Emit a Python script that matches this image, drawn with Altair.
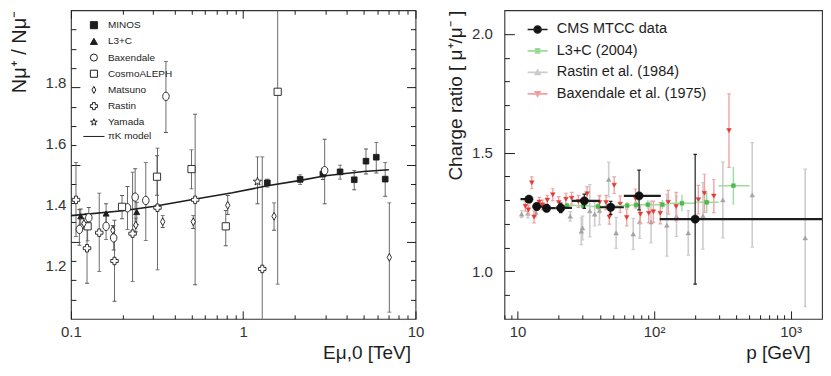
import altair as alt
import pandas as pd

FONT = "Liberation Sans"
INK = "#1e1e1e"
LBL = "#333333"

# ---------------- left panel: N(mu+)/N(mu-) vs E_mu,0 [TeV] ----------------
minos_E = [1.38, 2.14, 2.90, 3.65, 4.41, 5.16, 5.92, 6.67]
minos_R = [1.471, 1.482, 1.500, 1.507, 1.481, 1.542, 1.555, 1.483]
minos_lo = [1.457, 1.465, 1.482, 1.483, 1.448, 1.500, 1.503, 1.427]
minos_hi = [1.483, 1.497, 1.519, 1.529, 1.511, 1.582, 1.603, 1.538]

l3c_E = [0.114, 0.160, 0.241]
l3c_R = [1.361, 1.370, 1.375]
l3c_lo = [1.335, 1.334, 1.334]
l3c_hi = [1.385, 1.402, 1.407]

bax_E = [0.112, 0.127, 0.160, 0.177, 0.213, 0.236, 0.272, 0.356, 2.97]
bax_R = [1.318, 1.356, 1.328, 1.290, 1.389, 1.424, 1.413, 1.755, 1.511]
bax_lo = [1.266, 1.320, 1.285, 1.250, 1.318, 1.330, 1.281, 1.636, 1.402]
bax_hi = [1.383, 1.390, 1.370, 1.330, 1.459, 1.517, 1.538, 1.870, 1.614]

cal_E = [0.125, 0.198, 0.316, 0.501, 0.792, 1.585]
cal_R = [1.328, 1.392, 1.491, 1.516, 1.328, 1.770]
cal_lo = [1.280, 1.353, 1.430, 1.451, 1.264, 1.138]
cal_hi = [1.370, 1.429, 1.560, 1.579, 1.380, 2.100]

mat_E = [0.119, 0.175, 0.238, 0.341, 0.513, 0.813, 1.51, 7.05]
mat_R = [1.337, 1.315, 1.332, 1.343, 1.343, 1.397, 1.361, 1.226]
mat_lo = [1.320, 1.300, 1.310, 1.324, 1.321, 1.367, 1.315, 1.046]
mat_hi = [1.355, 1.330, 1.355, 1.363, 1.363, 1.429, 1.405, 1.405]

ras_E = [0.107, 0.124, 0.146, 0.179, 0.228, 0.318, 0.526, 1.29]
ras_R = [1.415, 1.256, 1.307, 1.214, 1.304, 1.389, 1.415, 1.188]
ras_lo = [1.294, 1.141, 1.180, 1.082, 1.147, 1.185, 1.136, 0.900]
ras_hi = [1.538, 1.370, 1.437, 1.348, 1.506, 1.585, 1.696, 1.556]

yam_E = [1.21]
yam_R = [1.475]
yam_lo = [1.402]
yam_hi = [1.556]

pik_E = [0.1, 0.2, 0.3, 0.5, 0.865, 1.38, 2.11, 3.0, 5.0, 7.0]
pik_R = [1.363, 1.379, 1.393, 1.415, 1.438, 1.461, 1.478, 1.494, 1.508, 1.514]

left_names = ["MINOS", "L3+C", "Baxendale", "CosmoALEPH", "Matsuno", "Rastin", "Yamada", "\u03c0K model"]

# axis tick values (left)
left_x_labels = [0.1, 1, 10]
left_x_minor = [0.2, 0.3, 0.4, 0.5, 0.6, 0.7, 0.8, 0.9, 2, 3, 4, 5, 6, 7, 8, 9]
left_y_labels = [1.2, 1.4, 1.6, 1.8]
left_y_major = [1.277, 1.531, 1.784]
left_y_minor = [1.087, 1.151, 1.214, 1.341, 1.404, 1.467, 1.594, 1.658, 1.721, 1.848, 1.911, 1.975]

# ---------------- right panel: charge ratio vs p [GeV] ----------------
cms_p = [12.1, 13.8, 16.3, 20.7, 30.8, 48.1, 77.6, 200]
cms_R = [1.304, 1.273, 1.266, 1.267, 1.297, 1.270, 1.318, 1.220]
cms_lo = [1.292, 1.258, 1.251, 1.247, 1.265, 1.240, 1.259, 0.946]
cms_hi = [1.316, 1.288, 1.281, 1.287, 1.325, 1.295, 1.426, 1.493]
cms_plo = [10.5, 12.9, 15.2, 19.0, 25.0, 40.0, 60.0, 110]
cms_phi = [12.9, 15.2, 19.0, 25.0, 40.0, 60.0, 112, 2000]

l3_p = [23.0, 30.3, 38.8, 48.0, 63.5, 73.8, 90, 115, 160, 243, 381]
l3_R = [1.277, 1.276, 1.273, 1.275, 1.277, 1.280, 1.281, 1.281, 1.287, 1.291, 1.361]
l3_err = [0.012, 0.012, 0.013, 0.014, 0.015, 0.016, 0.018, 0.02, 0.035, 0.045, 0.08]
l3_plo = [21, 27, 34, 43, 55, 68, 80, 100, 130, 200, 297]
l3_phi = [27, 34, 43, 55, 68, 80, 100, 130, 200, 297, 501]

rst_p = [10.7, 11.9, 13.6, 24.3, 29.3, 29.9, 33.8, 36.7, 39.8, 46.5, 52.7, 70.3, 78.5, 95, 124, 146, 178, 228, 319, 524, 1280]
rst_R = [1.241, 1.245, 1.248, 1.232, 1.169, 1.183, 1.255, 1.241, 1.256, 1.387, 1.162, 1.157, 1.209, 1.208, 1.194, 1.232, 1.162, 1.234, 1.301, 1.322, 1.141]
rst_err = [0.015, 0.02, 0.02, 0.02, 0.056, 0.05, 0.11, 0.05, 0.06, 0.073, 0.065, 0.066, 0.07, 0.088, 0.13, 0.085, 0.094, 0.14, 0.16, 0.22, 0.29]

bx_p = [11.4, 12.0, 12.7, 13.2, 14.4, 15.2, 16.5, 18.1, 20.0, 22.6, 24.9, 27.9, 32.3, 39.8, 44.5, 47, 51, 56.4, 63, 73.1, 79.4, 91.4, 98.8, 111, 127, 145, 211, 234, 274, 354]
bx_R = [1.274, 1.259, 1.373, 1.229, 1.292, 1.280, 1.300, 1.323, 1.290, 1.304, 1.308, 1.294, 1.327, 1.290, 1.290, 1.229, 1.363, 1.283, 1.227, 1.307, 1.241, 1.245, 1.251, 1.245, 1.291, 1.273, 1.302, 1.329, 1.317, 1.593]
bx_err = [0.02, 0.02, 0.025, 0.025, 0.02, 0.02, 0.02, 0.025, 0.025, 0.025, 0.025, 0.025, 0.03, 0.03, 0.03, 0.03, 0.035, 0.035, 0.035, 0.04, 0.04, 0.04, 0.045, 0.045, 0.05, 0.06, 0.06, 0.08, 0.07, 0.155]

right_names = ["CMS MTCC data", "L3+C (2004)", "Rastin et al. (1984)", "Baxendale et al. (1975)"]

right_x_labels = [10, 100, 1000]
right_x_minor = [8, 9, 20, 30, 40, 50, 60, 70, 80, 90, 200, 300, 400, 500, 600, 700, 800, 900]
right_y_labels = [1.0, 1.5, 2.0]
right_y_minor = [0.9, 1.1, 1.2, 1.3, 1.4, 1.6, 1.7, 1.8, 1.9]

# ---------------- helpers ----------------
def tick_axis(orient, values, size):
    return alt.Axis(orient=orient, values=values, labels=False, ticks=True, tickSize=size,
                    offset=-size, domain=False, grid=False, title=None,
                    tickColor=INK, tickWidth=1)


def label_axis(orient, values, title, label_pad, title_pad, title_size=19, **kw):
    return alt.Axis(orient=orient, values=values, ticks=False, tickSize=0, domain=False,
                    grid=False, labelFont=FONT, labelFontSize=15, labelColor=LBL,
                    labelPadding=label_pad, labelFlush=False, labelOverlap=False,
                    title=title, titleFont=FONT, titleFontSize=title_size, titleFontWeight="normal",
                    titleColor=INK, titlePadding=title_pad, **kw)


def table(xs, ys, lo, hi):
    return pd.DataFrame({"x": xs, "y": ys, "lo": lo, "hi": hi})


def sym_table(xs, ys, err):
    return pd.DataFrame({"x": xs, "y": ys,
                         "lo": [a - e for a, e in zip(ys, err)],
                         "hi": [a + e for a, e in zip(ys, err)]})


# ================= LEFT =================
xL = alt.Scale(type="log", domain=[0.1, 10], nice=False)
yL = alt.Scale(domain=[1.024, 2.038], nice=False, zero=False)

left_sets = [
    ("MINOS", table(minos_E, minos_R, minos_lo, minos_hi)),
    ("L3+C", table(l3c_E, l3c_R, l3c_lo, l3c_hi)),
    ("Baxendale", table(bax_E, bax_R, bax_lo, bax_hi)),
    ("CosmoALEPH", table(cal_E, cal_R, cal_lo, cal_hi)),
    ("Matsuno", table(mat_E, mat_R, mat_lo, mat_hi)),
    ("Rastin", table(ras_E, ras_R, ras_lo, ras_hi)),
    ("Yamada", table(yam_E, yam_R, yam_lo, yam_hi)),
]
left_all = pd.concat([d.assign(series=n) for n, d in left_sets], ignore_index=True)

ELLIPSE = "M0,-1A0.78,1 0 1,1 0,1A0.78,1 0 1,1 0,-1Z"
NDIAMOND = "M0,-1L0.55,0L0,1L-0.55,0Z"
STAR = ("M0,-1L0.235,-0.324L0.951,-0.309L0.38,0.124L0.588,0.809L0,0.4L-0.588,0.809"
        "L-0.38,0.124L-0.951,-0.309L-0.235,-0.324Z")
left_style = {
    "MINOS": ("square", INK, 32),
    "L3+C": ("triangle-up", INK, 36),
    "Baxendale": (ELLIPSE, "white", 70),
    "CosmoALEPH": ("square", "white", 52),
    "Matsuno": (NDIAMOND, "white", 62),
    "Rastin": ("cross", "white", 56),
    "Yamada": (STAR, "white", 75),
}
left_leg_shapes = ["square", "triangle-up", "circle", "square", NDIAMOND, "cross", STAR, "M-3,0L3,0"]
left_leg_fills = [INK, INK, "white", "white", "white", "white", "white", "white"]

# axis assignment per layer (x axis, y axis)
L_axes = [
    (label_axis("bottom", left_x_labels, "E\u03bc,0 [TeV]", 6, 4, format="~g",
                titleAnchor="end", titleX=340, titleAlign="right"),
     label_axis("left", left_y_labels, "N\u03bc\u207a / N\u03bc\u207b", 5, 16, title_size=20,
                format=".1f", titleAnchor="end")),
    (tick_axis("bottom", left_x_labels, 8), tick_axis("left", left_y_major, 9)),
    (tick_axis("bottom", left_x_minor, 4), tick_axis("left", left_y_minor, 5)),
    (tick_axis("top", left_x_labels, 8), tick_axis("right", left_y_major, 9)),
    (tick_axis("top", left_x_minor, 4), tick_axis("right", left_y_minor, 5)),
]

err_rules = alt.Chart(left_all).mark_rule(color="#5a5a5a", strokeWidth=0.9, clip=True).encode(
    x=alt.X("x:Q", scale=xL, axis=L_axes[0][0]),
    y=alt.Y("lo:Q", scale=yL, axis=L_axes[0][1]),
    y2="hi:Q",
)
err_caps = alt.Chart(left_all).transform_fold(["lo", "hi"], as_=["end", "v"]).mark_tick(
    orient="horizontal", size=4, thickness=0.9, color="#5a5a5a", opacity=1, clip=True
).encode(
    x=alt.X("x:Q", scale=xL, axis=L_axes[1][0]),
    y=alt.Y("v:Q", scale=yL, axis=L_axes[1][1]),
)
pik_line = alt.Chart(pd.DataFrame({"x": pik_E, "y": pik_R})).mark_line(
    color=INK, strokeWidth=1.6, clip=True
).encode(
    x=alt.X("x:Q", scale=xL, axis=L_axes[2][0]),
    y=alt.Y("y:Q", scale=yL, axis=L_axes[2][1]),
)

point_layers = []
for i, (name, d) in enumerate(left_sets):
    shape, fill, size = left_style[name]
    if i < 2:
        xa, ya = L_axes[3 + i]
    else:
        xa, ya = None, None
    point_layers.append(
        alt.Chart(d).mark_point(shape=shape, fill=fill, stroke=INK, strokeWidth=0.9, size=size,
                                opacity=1, fillOpacity=1, filled=True, clip=True).encode(
            x=alt.X("x:Q", scale=xL, axis=xa),
            y=alt.Y("y:Q", scale=yL, axis=ya),
        )
    )

leg_left = alt.Legend(orient="none", legendX=18, legendY=10, labelFont=FONT, labelFontSize=10,
                      labelColor=INK, symbolSize=50, symbolStrokeWidth=1, rowPadding=4.2,
                      labelOffset=9, padding=0, symbolOpacity=1, labelLimit=300)
left_legend = alt.Chart(pd.DataFrame({"lseries": left_names})).transform_filter("false").mark_point(
    stroke=INK, strokeWidth=1, opacity=1, filled=True
).encode(
    shape=alt.Shape("lseries:N", scale=alt.Scale(domain=left_names, range=left_leg_shapes),
                    legend=leg_left, title=None),
    fill=alt.Fill("lseries:N", scale=alt.Scale(domain=left_names, range=left_leg_fills),
                  legend=leg_left, title=None),
)

left = alt.layer(err_rules, err_caps, pik_line, *point_layers, left_legend).resolve_axis(
    x="independent", y="independent"
).properties(width=345, height=309)

# ================= RIGHT =================
xR = alt.Scale(type="log", domain=[8, 1700], nice=False)
yR = alt.Scale(domain=[0.8, 2.1], nice=False, zero=False)

R_axes = [
    (label_axis("bottom", right_x_labels, "p  [GeV]", 6, 4,
                labelExpr="datum.value < 50 ? '10' : (datum.value < 500 ? '10\u00b2' : '10\u00b3')",
                titleAnchor="end", titleX=306, titleAlign="right"),
     label_axis("left", right_y_labels, "Charge ratio [ \u03bc\u207a/\u03bc\u207b ]", 12, 6,
                format=".1f", titleAnchor="end")),
    (tick_axis("bottom", right_x_labels, 8), tick_axis("left", right_y_labels, 10)),
    (tick_axis("bottom", right_x_minor, 4), tick_axis("left", right_y_minor, 5)),
]

rst = sym_table(rst_p, rst_R, rst_err)
bx = sym_table(bx_p, bx_R, bx_err)
l3 = sym_table(l3_p, l3_R, l3_err).assign(plo=l3_plo, phi=l3_phi)
cms = table(cms_p, cms_R, cms_lo, cms_hi).assign(plo=cms_plo, phi=cms_phi)


def vbars(d, color, width, xa=None, ya=None):
    return alt.Chart(d).mark_rule(color=color, strokeWidth=width, clip=True).encode(
        x=alt.X("x:Q", scale=xR, axis=xa), y=alt.Y("lo:Q", scale=yR, axis=ya), y2="hi:Q")


def caps(d, color, width, xa=None, ya=None):
    return alt.Chart(d).transform_fold(["lo", "hi"], as_=["end", "v"]).mark_tick(
        orient="horizontal", size=3.5, thickness=width, color=color, opacity=1, clip=True
    ).encode(x=alt.X("x:Q", scale=xR, axis=xa), y=alt.Y("v:Q", scale=yR, axis=ya))


def hbars(d, color, width):
    return alt.Chart(d).mark_rule(color=color, strokeWidth=width, clip=True).encode(
        x=alt.X("plo:Q", scale=xR, axis=None), x2="phi:Q", y=alt.Y("y:Q", scale=yR, axis=None))


def dots(d, shape, color, size, xa=None, ya=None):
    return alt.Chart(d).mark_point(shape=shape, filled=True, fill=color, stroke=color, strokeWidth=0.5,
                                   size=size, opacity=1, clip=True).encode(
        x=alt.X("x:Q", scale=xR, axis=xa), y=alt.Y("y:Q", scale=yR, axis=ya))


GREY_L, GREY = "#cdcdcd", "#a3a3a3"
RED_L, RED = "#f2a3a3", "#e23b36"
GRN_L, GRN = "#9edc9e", "#4db84d"

right_layers = [
    vbars(rst, GREY_L, 1.6, R_axes[0][0], R_axes[0][1]),
    caps(rst, GREY_L, 1.2, R_axes[1][0], R_axes[1][1]),
    dots(rst, "triangle-up", GREY, 22, R_axes[2][0], R_axes[2][1]),
    vbars(bx, RED_L, 1.4),
    caps(bx, RED_L, 1.2),
    dots(bx, "triangle-down", RED, 22),
    hbars(l3, GRN_L, 1.5),
    vbars(l3, GRN_L, 1.4),
    dots(l3, "square", GRN, 15),
    hbars(cms, INK, 2.2),
    vbars(cms, INK, 1.2),
    caps(cms, INK, 1.2),
    dots(cms, "circle", "#111111", 70),
]

right_leg_shapes = [
    "M-2,0L2,0M-0.7,0A0.7,0.7 0 1,0 0.7,0A0.7,0.7 0 1,0 -0.7,0Z",
    "M-2,0L2,0M-0.4,-0.4L0.4,-0.4L0.4,0.4L-0.4,0.4Z",
    "M-2,0L2,0M0,-0.5L0.5,0.4L-0.5,0.4Z",
    "M-2,0L2,0M0,0.5L0.5,-0.4L-0.5,-0.4Z",
]
right_leg_fills = ["#111111", GRN, GREY, RED]
right_leg_strokes = [INK, GRN_L, GREY_L, RED_L]

leg_right = alt.Legend(orient="none", legendX=26, legendY=12, labelFont=FONT, labelFontSize=14.5,
                       labelColor=INK, symbolSize=100, symbolStrokeWidth=1.6, rowPadding=6.5,
                       labelOffset=12, padding=0, symbolOpacity=1, labelLimit=400)
right_legend = alt.Chart(pd.DataFrame({"rseries": right_names})).transform_filter("false").mark_point(
    opacity=1, filled=True, strokeWidth=1.6
).encode(
    shape=alt.Shape("rseries:N", scale=alt.Scale(domain=right_names, range=right_leg_shapes),
                    legend=leg_right, title=None),
    fill=alt.Fill("rseries:N", scale=alt.Scale(domain=right_names, range=right_leg_fills),
                  legend=leg_right, title=None),
    stroke=alt.Stroke("rseries:N", scale=alt.Scale(domain=right_names, range=right_leg_strokes),
                      legend=leg_right, title=None),
)

right = alt.layer(*right_layers, right_legend).resolve_axis(
    x="independent", y="independent"
).properties(width=318, height=309)

chart = alt.hconcat(left, right, spacing=21).resolve_scale(
    shape="independent", fill="independent", stroke="independent"
).properties(
    padding={"left": 0, "top": 0, "right": 0, "bottom": 0}
).configure_view(stroke="#333333", strokeWidth=1.1)

chart.save("out.html", embed_options={"renderer": "svg", "actions": False})
